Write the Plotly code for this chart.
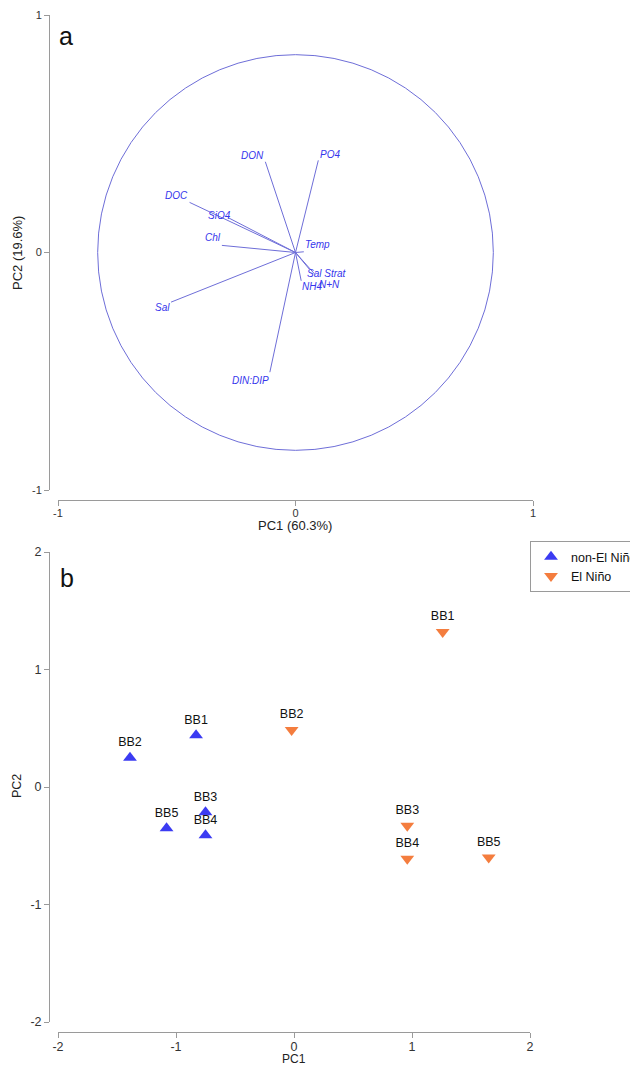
import plotly.graph_objects as go

# ---------------- data ----------------
var_names = ["DON", "PO4", "DOC", "SiO4", "Chl", "Temp", "Sal Strat", "N+N", "NH4", "Sal", "DIN:DIP"]
pc1_load = [-0.127, 0.096, -0.446, -0.284, -0.310, 0.035, 0.058, 0.080, 0.024, -0.524, -0.108]
pc2_load = [0.382, 0.388, 0.211, 0.147, 0.030, 0.003, -0.070, -0.090, -0.119, -0.209, -0.504]

site_names = ["BB1", "BB2", "BB3", "BB4", "BB5"]
non_nino_pc1 = [-0.83, -1.39, -0.75, -0.75, -1.08]
non_nino_pc2 = [0.44, 0.25, -0.215, -0.41, -0.35]
nino_pc1 = [1.26, -0.02, 0.96, 0.96, 1.65]
nino_pc2 = [1.32, 0.485, -0.33, -0.61, -0.60]

ticks_a = [-1, 0, 1]
ticks_b = [-2, -1, 0, 1, 2]

# ---------------- styling / layout helpers ----------------
# the page body has an 8px margin, so the figure is drawn 8px in from the window edge
OFF = 8
W, H = 638 - OFF, 1071 - 2 * OFF
def fx(p):
    return (p - OFF) / W
def fy(p):
    return 1 - (p - OFF) / H

label_dx = [-0.053, 0.048, -0.054, -0.035, -0.038, 0.059, 0.074, 0.064, 0.045, -0.038, -0.082]
label_dy = [0.028, 0.023, 0.029, 0.007, 0.032, 0.032, -0.019, -0.044, -0.025, -0.023, -0.035]
circle_r = 0.833

line_col = "#6e6ed8"
text_col = "#3535ec"
axis_col = "#9a9a9a"
FONT = "Liberation Sans, Arial, sans-serif"

fig = go.Figure()

# vectors (panel a)
vx, vy = [], []
for a, b in zip(pc1_load, pc2_load):
    vx += [0, a, None]
    vy += [0, b, None]
fig.add_trace(go.Scatter(x=vx, y=vy, mode="lines", line=dict(color=line_col, width=1),
                         xaxis="x", yaxis="y", showlegend=False, hoverinfo="skip"))

annotations = []
for n, a, b, dx, dy in zip(var_names, pc1_load, pc2_load, label_dx, label_dy):
    annotations.append(dict(x=a + dx, y=b + dy, xref="x", yref="y", text="<i>" + n + "</i>",
                            xanchor="center", yanchor="middle",
                            showarrow=False, font=dict(family=FONT, size=10, color=text_col)))

# scores (panel b)
fig.add_trace(go.Scatter(x=non_nino_pc1, y=non_nino_pc2, mode="markers+text", text=site_names,
                         textposition="top center", textfont=dict(family=FONT, size=12.5, color="#111111"),
                         marker=dict(symbol="triangle-up", size=12, color="#3b3bf2"),
                         name="non-El Niño", xaxis="x2", yaxis="y2"))
fig.add_trace(go.Scatter(x=nino_pc1, y=nino_pc2, mode="markers+text", text=site_names,
                         textposition="top center", textfont=dict(family=FONT, size=12.5, color="#111111"),
                         marker=dict(symbol="triangle-down", size=12, color="#f47d3e"),
                         name="El Niño", xaxis="x2", yaxis="y2"))

def axis_style(size):
    return dict(showgrid=False, zeroline=False, showline=True, linecolor=axis_col, linewidth=1,
                ticks="outside", ticklen=5, tickcolor=axis_col,
                tickfont=dict(family=FONT, size=size, color="#333333"))

fig.update_layout(
    width=W, height=H, margin=dict(l=0, r=0, t=0, b=0, autoexpand=False),
    paper_bgcolor="white", plot_bgcolor="white",
    xaxis=dict(domain=[fx(58), fx(533)], range=[-1, 1], tickvals=ticks_a, ticktext=[str(t) for t in ticks_a],
               anchor="free", position=fy(500), ticklabelstandoff=-2, **axis_style(11)),
    yaxis=dict(domain=[fy(490), fy(15)], range=[-1, 1], tickvals=ticks_a, ticktext=[str(t) for t in ticks_a],
               anchor="free", position=fx(49), **axis_style(11)),
    xaxis2=dict(domain=[fx(58), fx(530)], range=[-2, 2], tickvals=ticks_b, ticktext=[str(t) for t in ticks_b],
                anchor="free", position=fy(1031.5), ticklabelstandoff=-2, **axis_style(12.5)),
    yaxis2=dict(domain=[fy(1022), fy(552)], range=[-2, 2], tickvals=ticks_b, ticktext=[str(t) for t in ticks_b],
                anchor="free", position=fx(49), **axis_style(12.5)),
    legend=dict(x=fx(530), y=fy(541), xanchor="left", yanchor="top", bordercolor="#9a9a9a", borderwidth=1,
                bgcolor="white", font=dict(family=FONT, size=12.5, color="#111111"),
                tracegroupgap=0, itemsizing="constant"),
    shapes=[dict(type="circle", xref="x", yref="y", x0=-circle_r, x1=circle_r, y0=-circle_r, y1=circle_r,
                 line=dict(color=line_col, width=1))],
)

def lab(px, py, text, size=13, angle=0, color="#222222"):
    return dict(x=fx(px), y=fy(py), xref="paper", yref="paper", text=text, showarrow=False,
                xanchor="center", yanchor="middle", textangle=angle,
                font=dict(family=FONT, size=size, color=color))

annotations += [
    lab(66, 36, "a", size=25, color="#111111"),
    lab(67, 578, "b", size=25, color="#111111"),
    lab(295, 525, "PC1 (60.3%)"),
    lab(17, 253, "PC2 (19.6%)", angle=-90),
    lab(294, 1059, "PC1", size=12),
    lab(17, 786, "PC2", size=12.5, angle=-90),
]
fig.update_layout(annotations=annotations)

fig.write_html("out.html")
